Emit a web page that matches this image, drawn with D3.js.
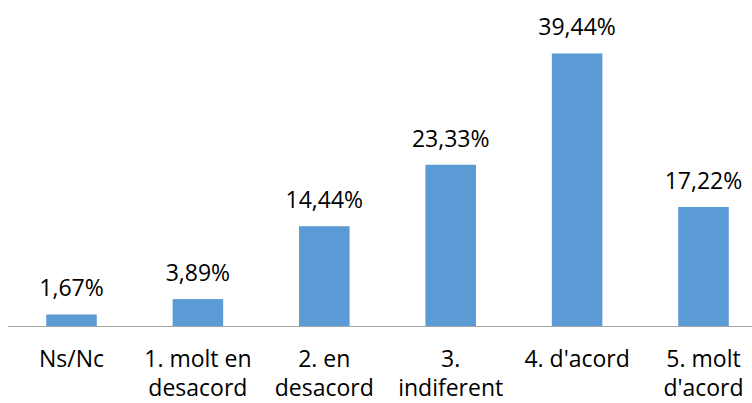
<!DOCTYPE html>
<html><head><meta charset="utf-8">
<script src="https://cdn.jsdelivr.net/npm/d3@7/dist/d3.min.js"></script>
<style>body{margin:0;background:#fff}svg{display:block}</style>
</head><body>
<svg id="c" width="752" height="403"></svg>
<script>
const categories = ["Ns/Nc", "1. molt en\ndesacord", "2. en\ndesacord", "3.\nindiferent", "4. d'acord", "5. molt\nd'acord"];
const values = [1.67, 3.89, 14.44, 23.33, 39.44, 17.22];
const valueLabels = ["1,67%", "3,89%", "14,44%", "23,33%", "39,44%", "17,22%"];

const svg = d3.select("#c");
const font = "'Open Sans', sans-serif";
const x = d3.scaleBand().domain(categories).range([8.3, 766.7]).paddingInner(0.6).paddingOuter(0.3);
const y = d3.scaleLinear().domain([0, 45]).range([326, 15]);

svg.selectAll("rect.bar").data(values).join("rect")
  .attr("class", "bar")
  .attr("x", (d, i) => x(categories[i]))
  .attr("width", x.bandwidth())
  .attr("y", d => y(d))
  .attr("height", d => y(0) - y(d))
  .attr("fill", "#5B9BD5");

svg.append("line").attr("x1", 8).attr("x2", 752).attr("y1", y(0) + 0.5).attr("y2", y(0) + 0.5)
  .attr("stroke", "#a6a6a6").attr("stroke-width", 1);

svg.selectAll("text.val").data(values).join("text")
  .attr("class", "val")
  .attr("x", (d, i) => x(categories[i]) + x.bandwidth() / 2)
  .attr("y", d => y(d) - 18)
  .attr("text-anchor", "middle")
  .style("font-family", font).style("font-size", "23px").attr("fill", "#000")
  .text((d, i) => valueLabels[i]);

const cat = svg.selectAll("text.cat").data(categories).join("text")
  .attr("class", "cat")
  .attr("text-anchor", "middle")
  .style("font-family", font).style("font-size", "23px").attr("fill", "#000");
cat.each(function(d) {
  const t = d3.select(this);
  const cx = x(d) + x.bandwidth() / 2;
  d.split("\n").forEach((line, j) => {
    t.append("tspan").attr("x", cx).attr("y", 367 + j * 29).text(line);
  });
});
</script>
</body></html>
